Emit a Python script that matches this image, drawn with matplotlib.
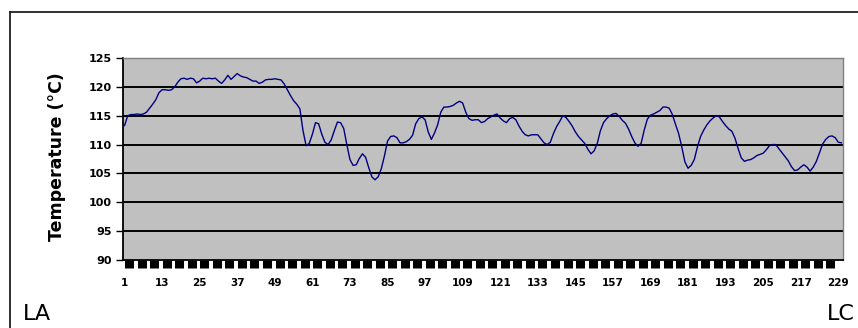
import numpy as np
import matplotlib
matplotlib.use("Agg")
import matplotlib.pyplot as plt
from matplotlib.lines import Line2D

# temperature readings along the run, one per sample
temps = [
    113.3, 115.0, 115.2, 115.2, 115.3, 115.2, 115.3, 115.6, 116.3, 117.0,
    117.8, 119.0, 119.5, 119.5, 119.4, 119.5, 120.0, 120.8, 121.4, 121.5,
    121.3, 121.5, 121.4, 120.7, 121.0, 121.5, 121.4, 121.5, 121.4, 121.5,
    121.0, 120.6, 121.2, 122.0, 121.3, 121.8, 122.3, 121.9, 121.7, 121.6,
    121.3, 121.0, 121.0, 120.6, 120.8, 121.2, 121.3, 121.3, 121.4, 121.3,
    121.2, 120.5, 119.5, 118.5, 117.6, 117.0, 116.2, 112.4, 109.8, 110.2,
    111.8, 113.8, 113.6, 111.8, 110.4, 110.0, 110.8, 112.4, 113.9, 113.8,
    112.8, 110.0, 107.4, 106.4, 106.5, 107.6, 108.4, 107.8, 106.0, 104.4,
    103.9, 104.4, 105.8, 108.0, 110.6, 111.4, 111.5, 111.2, 110.3, 110.3,
    110.5, 110.9, 111.6, 113.6, 114.5, 114.8, 114.3, 112.2, 110.9, 112.0,
    113.4, 115.6, 116.5, 116.5, 116.6, 116.8, 117.2, 117.5, 117.2, 115.6,
    114.5, 114.2, 114.3, 114.3, 113.8, 114.0, 114.5, 114.8, 115.1, 115.3,
    114.6, 114.1, 113.8, 114.5, 114.7, 114.3, 113.2, 112.3, 111.7, 111.5,
    111.7, 111.7, 111.7, 111.0, 110.3, 110.0, 110.4, 111.9, 113.1, 114.0,
    115.0, 114.7, 114.0, 113.2, 112.2, 111.4, 110.8, 110.2, 109.2, 108.4,
    108.9, 110.2, 112.4, 113.8, 114.5, 115.0, 115.3, 115.4, 114.9, 114.2,
    113.7, 112.7, 111.4, 110.3, 109.7, 110.2, 112.5, 114.4, 115.1, 115.3,
    115.6, 115.9, 116.5, 116.5, 116.3, 115.2, 113.5, 111.9, 109.6, 107.0,
    105.9, 106.4, 107.4, 109.6, 111.4, 112.5, 113.4, 114.1, 114.6, 115.0,
    114.8, 114.0, 113.3, 112.7, 112.3, 111.1, 109.3, 107.7, 107.1, 107.3,
    107.4, 107.7, 108.1, 108.3, 108.5, 109.1, 109.8, 110.0, 110.0, 109.3,
    108.6, 107.9, 107.2, 106.2, 105.5, 105.6, 106.1, 106.5, 106.1, 105.4,
    106.1, 107.1, 108.6, 110.1, 110.9, 111.4, 111.5, 111.2, 110.4, 110.3,
]
samples = np.arange(1, len(temps) + 1)
x_labels = list(range(1, 230, 12))
y_ticks = list(range(90, 126, 5))

fig = plt.figure(figsize=(8.58, 3.28), dpi=100)
fig.patch.set_facecolor("white")

# outer chart frame (runs off the right and bottom edges)
fx = 10 / 858
fy = 1 - 12 / 328
fig.add_artist(Line2D([fx, fx], [0, fy], transform=fig.transFigure, color="#202020", lw=1.3))
fig.add_artist(Line2D([fx, 1], [fy, fy], transform=fig.transFigure, color="#202020", lw=1.3))

ax = fig.add_axes([123 / 858, 1 - 260 / 328, 720 / 858, 202 / 328])
ax.set_facecolor("#c0c0c0")

for v in y_ticks[1:-1]:
    ax.axhline(v, color="black", lw=1.4, zorder=1)

ax.plot(samples, temps, color="#000080", lw=1.0, zorder=3)

ax.set_xlim(0.5, len(temps) + 0.5)
ax.set_ylim(90, 125)

ax.set_yticks(y_ticks)
ax.set_yticklabels([str(v) for v in y_ticks], fontsize=8, fontweight="bold")
ax.tick_params(axis="y", direction="out", length=5, width=1, pad=3)

ax.set_xticks(x_labels)
ax.set_xticklabels([str(v) for v in x_labels], fontsize=7.5, fontweight="bold")
ax.tick_params(axis="x", which="major", length=0, pad=13)
# dense category tick bar under the axis
ax.xaxis.remove_overlapping_locs = False
ax.set_xticks(np.arange(2.5, len(temps) - 1, 4), minor=True)
ax.tick_params(axis="x", which="minor", direction="out", length=5.5, width=6.5, color="black")

for side in ("top", "right"):
    ax.spines[side].set_color("#808080")
    ax.spines[side].set_linewidth(1)
ax.spines["left"].set_linewidth(1.3)
ax.spines["bottom"].set_linewidth(1.3)

fig.text(57 / 858, 1 - 157 / 328, "Temperature (°C)", rotation=90, fontsize=12.5,
         fontweight="bold", ha="center", va="center")

fig.text(23 / 858, 1 - 320 / 328, "LA", fontsize=16, ha="left", va="baseline")
fig.text(827 / 858, 1 - 320 / 328, "LC", fontsize=16, ha="left", va="baseline")

fig.savefig("out.png", dpi=100)
